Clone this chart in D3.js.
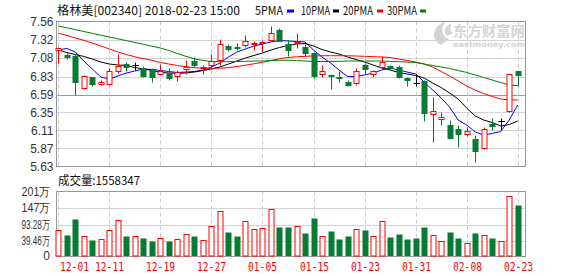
<!DOCTYPE html>
<html>
<head>
<meta charset="utf-8">
<script src="https://cdn.jsdelivr.net/npm/d3@7"></script>
<style>
  body { margin: 0; background: #fff; }
  svg { display: block; }
</style>
</head>
<body>
<svg id="chart" width="578" height="276"></svg>
<script>
// trading days, 2017-12-01 .. 2018-02-23
var dates = ['12-01','12-04','12-05','12-06','12-07','12-08','12-11','12-12','12-13','12-14',
  '12-15','12-18','12-19','12-20','12-21','12-22','12-25','12-26','12-27','12-28',
  '12-29','01-02','01-03','01-04','01-05','01-08','01-09','01-10','01-11','01-12',
  '01-15','01-16','01-17','01-18','01-19','01-22','01-23','01-24','01-25','01-26',
  '01-29','01-30','01-31','02-01','02-02','02-05','02-06','02-07','02-08','02-09',
  '02-12','02-13','02-14','02-22','02-23'];

var openP = [7.18,7.12,7.10,6.68,6.82,6.73,6.73,6.91,7.00,6.98,
  6.95,6.92,6.87,6.88,6.84,6.93,7.04,6.94,6.99,7.05,
  7.24,7.23,7.25,7.27,7.28,7.32,7.45,7.27,7.28,7.23,
  7.14,6.86,6.85,6.82,6.76,6.74,6.99,6.87,6.96,6.97,
  6.96,6.81,6.75,6.77,6.33,6.26,6.18,6.13,6.06,6.00,
  5.87,6.19,6.24,6.37,6.91];
var highP = [7.23,7.14,7.13,6.85,6.83,6.78,6.94,7.13,7.02,7.03,
  6.97,6.94,7.00,6.94,6.92,7.05,7.09,6.99,7.13,7.33,
  7.26,7.28,7.38,7.30,7.32,7.50,7.48,7.32,7.41,7.26,
  7.16,6.99,6.87,6.90,6.78,6.94,7.01,6.92,7.10,6.99,
  6.99,6.83,6.86,6.78,6.56,6.36,6.25,6.18,6.15,6.05,
  6.16,6.27,6.27,6.87,6.91];
var lowP = [7.01,7.07,6.59,6.66,6.70,6.72,6.72,6.88,6.91,6.92,
  6.83,6.76,6.85,6.78,6.77,6.87,6.96,6.87,6.94,6.99,
  7.17,7.19,7.23,7.19,7.16,7.30,7.30,7.10,7.21,7.11,
  6.81,6.83,6.67,6.76,6.70,6.72,6.87,6.83,6.94,6.92,
  6.81,6.71,6.71,6.23,5.96,6.18,6.00,5.89,6.03,5.69,
  5.86,6.12,6.12,6.35,6.70];
var closeP = [7.21,7.09,6.76,6.84,6.73,6.76,6.90,6.97,6.96,6.98,
  6.84,6.82,6.91,6.81,6.89,6.96,6.99,6.96,7.04,7.26,
  7.20,7.22,7.31,7.28,7.29,7.41,7.30,7.18,7.29,7.15,
  6.84,6.91,6.84,6.81,6.72,6.90,6.93,6.90,7.03,6.94,
  6.82,6.78,6.75,6.34,6.37,6.29,6.01,6.06,6.10,5.84,
  6.13,6.17,6.24,6.86,6.85];

var ma5 = [7.185,7.206,7.159,7.038,6.931,6.824,6.798,6.838,6.878,6.905,
  6.931,6.925,6.911,6.898,6.885,6.891,6.898,6.918,6.958,7.012,
  7.092,7.159,7.199,7.239,7.266,7.293,7.313,7.306,7.299,7.293,
  7.185,7.092,7.012,6.918,6.831,6.831,6.851,6.878,6.918,6.945,
  6.918,6.891,6.865,6.758,6.651,6.544,6.423,6.249,6.182,6.089,
  6.049,6.069,6.096,6.249,6.450];
var ma10 = [7.185,7.152,7.125,7.099,7.065,7.025,6.998,6.985,6.978,6.951,
  6.931,6.911,6.885,6.878,6.874,6.878,6.891,6.911,6.931,6.958,
  6.998,7.038,7.078,7.112,7.145,7.185,7.219,7.246,7.266,7.272,
  7.239,7.192,7.159,7.132,7.092,7.058,7.025,6.985,6.945,6.918,
  6.885,6.865,6.844,6.811,6.744,6.684,6.610,6.530,6.410,6.303,
  6.249,6.216,6.169,6.189,6.236];
var ma20 = [7.409,7.380,7.346,7.315,7.279,7.239,7.199,7.159,7.125,7.095,
  7.069,7.048,7.018,6.998,6.978,6.962,6.949,6.942,6.941,6.942,
  6.951,6.965,6.982,7.001,7.021,7.045,7.068,7.085,7.095,7.101,
  7.105,7.109,7.109,7.109,7.108,7.105,7.101,7.096,7.092,7.085,
  7.065,7.045,7.025,6.998,6.958,6.898,6.838,6.771,6.704,6.650,
  6.604,6.564,6.530,6.517,6.517];
var ma30 = [7.507,7.482,7.457,7.433,7.409,7.383,7.359,7.335,7.311,7.286,
  7.262,7.236,7.212,7.179,7.139,7.101,7.068,7.045,7.032,7.029,
  7.029,7.032,7.034,7.038,7.038,7.045,7.048,7.048,7.045,7.038,
  7.032,7.032,7.032,7.034,7.038,7.038,7.038,7.038,7.038,7.034,
  7.029,7.025,7.018,6.998,6.978,6.958,6.938,6.911,6.885,6.851,
  6.818,6.784,6.751,6.717,6.708];

// volume in 万手
var volume = [75.3,59.0,111.4,54.6,42.6,44.8,74.2,107.0,55.7,54.6,
  49.1,39.3,48.0,39.3,44.8,61.1,55.7,41.5,87.3,137.6,
  68.8,55.7,103.7,78.6,80.8,143.0,85.2,85.2,87.3,65.5,
  114.6,54.6,72.0,45.9,55.7,78.6,75.3,54.6,103.7,52.4,
  62.2,45.9,49.1,85.2,57.9,38.2,68.8,49.1,31.7,65.5,
  57.9,49.1,38.2,185.6,155.8347];

var priceTicks = [7.56,7.32,7.08,6.83,6.59,6.35,6.11,5.87,5.63];
var volTicks = [201,147,93.28,39.46];
var volTickLabels = ['201万','147万','93.28万','39.46万'];
var xTickLabels = ['12-01','12-11','12-19','12-27','01-05','01-15','01-23','01-31','02-08','02-23'];

var RED = '#f00', GREEN = '#077a33', MA_COLORS = ['#00f','#000','#f00','#008000'];
var LEFT = 56.5, RIGHT = 525.5;
var P_TOP = 21.5, P_BOT = 166.5, V_TOP = 191.5, V_BOT = 256.5;

var svg = d3.select('#chart');

var x = d3.scalePoint().domain(dates).range([58.3, 517.7]);
var y = d3.scaleLinear().domain([5.63, 7.56]).range([166.3, 22]);
var vy = d3.scaleLinear().domain([0, 201]).range([253, 191.7]);

function cx(i) { return Math.round(x(dates[i])) + 0.5; }
function py(v) { return Math.round(y(v)) + 0.5; }

// grid
var grid = svg.append('g');
grid.selectAll('line.hp').data(priceTicks.slice(1, -1)).join('line')
  .attr('x1', LEFT).attr('x2', RIGHT)
  .attr('y1', d => py(d)).attr('y2', d => py(d))
  .attr('stroke', (d, i) => i == 3 ? '#999' : '#d3d3d3');
grid.selectAll('line.hv').data(volTicks.slice(1)).join('line')
  .attr('x1', LEFT).attr('x2', RIGHT)
  .attr('y1', d => Math.round(vy(d)) + 0.5).attr('y2', d => Math.round(vy(d)) + 0.5)
  .attr('stroke', '#d3d3d3');
var tickIdx = xTickLabels.map(d => dates.indexOf(d));
[[P_TOP, P_BOT], [V_TOP, V_BOT]].forEach(function(r) {
  grid.append('g').selectAll('line').data(tickIdx).join('line')
    .attr('x1', d => cx(d)).attr('x2', d => cx(d))
    .attr('y1', r[0]).attr('y2', r[1])
    .attr('stroke', '#ccc').attr('stroke-dasharray', '4,3');
});

// watermark
var wm = svg.append('g').attr('fill', '#d4d4d4');
wm.append('path').attr('d', 'M441,45 C430,38 432,27 446,21 C440,29 441,35 449,39 Z');
wm.append('path').attr('d', 'M447,36 C442,31 445,26 452,23 C449,28 450,31 453,33 Z');
wm.append('text').attr('x', 453).attr('y', 36)
  .attr('font-family', 'Noto Sans CJK SC').attr('font-weight', 'bold').attr('font-size', 13.5)
  .attr('textLength', 72).attr('lengthAdjust', 'spacingAndGlyphs').text('东方财富网');
wm.append('text').attr('x', 453).attr('y', 46.5)
  .attr('font-family', 'DejaVu Sans').attr('font-weight', 'bold').attr('font-size', 7.5)
  .attr('textLength', 72).attr('lengthAdjust', 'spacingAndGlyphs').text('eastmoney.com');

// frames
svg.append('rect').attr('x', LEFT).attr('y', P_TOP).attr('width', RIGHT - LEFT).attr('height', P_BOT - P_TOP)
  .attr('fill', 'none').attr('stroke', '#999');
svg.append('rect').attr('x', LEFT).attr('y', V_TOP).attr('width', RIGHT - LEFT).attr('height', V_BOT - V_TOP)
  .attr('fill', 'none').attr('stroke', '#999');

// moving averages
var line = d3.line().x((d, i) => x(dates[i])).y(d => y(d));
[ma5, ma10, ma20, ma30].forEach(function(s, k) {
  svg.append('path').datum(s).attr('d', line)
    .attr('fill', 'none').attr('stroke', MA_COLORS[k]).attr('stroke-width', 1);
});

// candles
function candleColor(i) {
  if (closeP[i] > openP[i]) return RED;
  if (closeP[i] < openP[i]) return GREEN;
  return '#000';
}
var candles = svg.append('g').selectAll('g').data(d3.range(dates.length)).join('g');
candles.each(function(i) {
  var g = d3.select(this), c = cx(i), col = candleColor(i);
  var top = py(Math.max(openP[i], closeP[i])), bot = py(Math.min(openP[i], closeP[i]));
  if (col == RED) {
    g.append('line').attr('x1', c).attr('x2', c).attr('y1', py(highP[i])).attr('y2', top).attr('stroke', col);
    g.append('line').attr('x1', c).attr('x2', c).attr('y1', bot).attr('y2', py(lowP[i])).attr('stroke', col);
    g.append('rect').attr('x', c - 2.5).attr('y', top).attr('width', 5).attr('height', Math.max(bot - top, 1))
      .attr('fill', '#fff').attr('stroke', col);
  } else if (col == GREEN) {
    g.append('line').attr('x1', c).attr('x2', c).attr('y1', py(highP[i])).attr('y2', py(lowP[i])).attr('stroke', col);
    g.append('rect').attr('x', c - 3).attr('y', top - 0.5).attr('width', 6).attr('height', Math.max(bot - top, 1) + 1)
      .attr('fill', col);
  } else {
    g.append('line').attr('x1', c).attr('x2', c).attr('y1', py(highP[i])).attr('y2', py(lowP[i])).attr('stroke', col);
    g.append('line').attr('x1', c - 3).attr('x2', c + 3.5).attr('y1', top).attr('y2', top).attr('stroke', col);
  }
});

// volume bars, doji take colour from previous close
function volUp(i) {
  if (closeP[i] != openP[i]) return closeP[i] > openP[i];
  return i == 0 || closeP[i] >= closeP[i - 1];
}
svg.append('g').selectAll('rect').data(volume).join('rect')
  .attr('x', (d, i) => volUp(i) ? cx(i) - 2.5 : cx(i) - 3)
  .attr('y', d => Math.round(vy(d)) + 0.5)
  .attr('width', (d, i) => volUp(i) ? 5 : 6)
  .attr('height', d => V_BOT - 0.5 - (Math.round(vy(d)) + 0.5))
  .attr('fill', (d, i) => volUp(i) ? '#fff' : GREEN)
  .attr('stroke', (d, i) => volUp(i) ? RED : 'none');

// axis labels
var lab = svg.append('g').attr('font-family', 'Liberation Sans, Arial, sans-serif').attr('font-size', 12).attr('fill', '#333');
lab.selectAll('text.p').data(priceTicks).join('text')
  .attr('x', 53.5).attr('y', d => y(d) + 4.3).attr('text-anchor', 'end')
  .text(d => d.toFixed(2));
lab.selectAll('text.v').data(volTicks).join('text')
  .attr('x', 21.5).attr('y', d => vy(d) + 4.3)
  .attr('textLength', 28.5).attr('lengthAdjust', 'spacingAndGlyphs')
  .text((d, i) => volTickLabels[i]);
lab.append('text').attr('x', 50).attr('y', 260.3).attr('text-anchor', 'end').text('0');

svg.append('g').selectAll('text').data(tickIdx).join('text')
  .attr('x', d => Math.max(cx(d), LEFT + 18)).attr('y', 270.5)
  .attr('text-anchor', 'middle')
  .attr('font-family', 'DejaVu Sans Mono, monospace').attr('font-size', 11.5).attr('fill', RED)
  .attr('textLength', 29).attr('lengthAdjust', 'spacingAndGlyphs')
  .text(d => dates[d]);

// title and legend
var head = svg.append('g').attr('font-family', 'Noto Sans CJK SC, sans-serif').attr('font-size', 12).attr('fill', '#111');
head.append('text').attr('x', 57).attr('y', 15)
  .attr('textLength', 183).attr('lengthAdjust', 'spacingAndGlyphs')
  .text('格林美[002340] 2018-02-23 15:00');
var legend = [['5PMA', 255, 28, 287, 7], ['10PMA', 301, 29, 333, 6], ['20PMA', 343, 30, 377, 6], ['30PMA', 387, 30, 420, 6]];
legend.forEach(function(d, k) {
  head.append('text').attr('x', d[1]).attr('y', 15)
    .attr('textLength', d[2]).attr('lengthAdjust', 'spacingAndGlyphs').text(d[0]);
  head.append('rect').attr('x', d[3]).attr('y', 9.5).attr('width', d[4]).attr('height', 3).attr('fill', MA_COLORS[k]);
});
head.append('text').attr('x', 58).attr('y', 184.5)
  .attr('textLength', 82).attr('lengthAdjust', 'spacingAndGlyphs')
  .text('成交量:' + Math.round(volume[volume.length - 1] * 10000));
</script>
</body>
</html>
